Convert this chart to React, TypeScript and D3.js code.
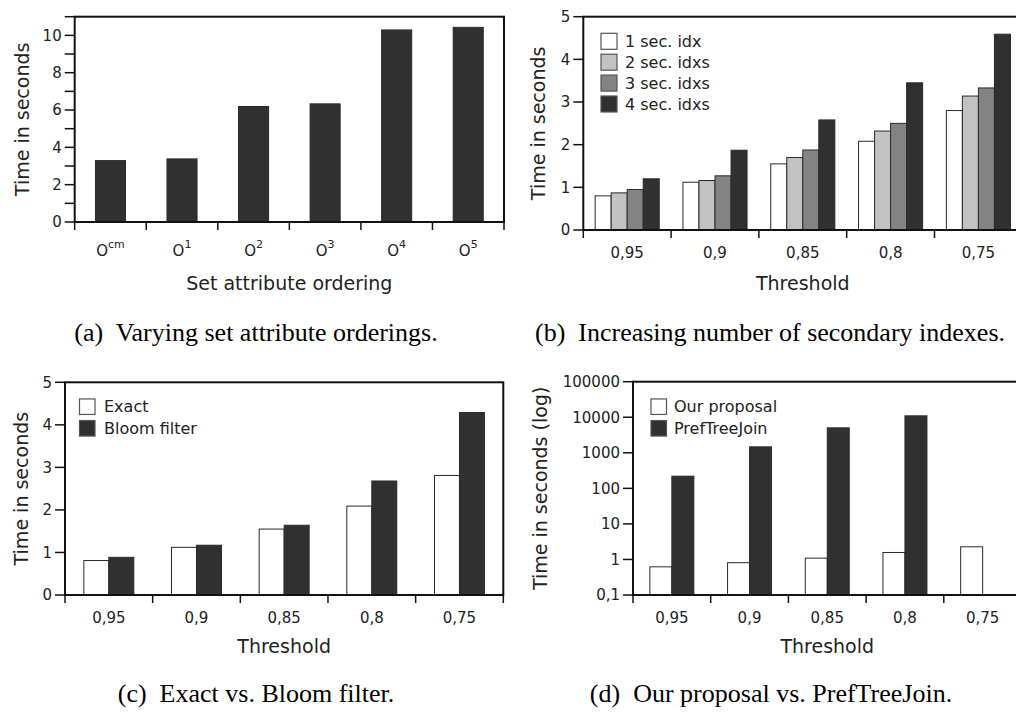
import React from "react";
import * as d3 from "d3";

// ---------- data ----------
const orderingLabels = ["cm", "1", "2", "3", "4", "5"];
const orderingTimes = [3.29, 3.38, 6.19, 6.33, 10.29, 10.43];

const thresholds = ["0,95", "0,9", "0,85", "0,8", "0,75"];
const secIdx1 = [0.8, 1.12, 1.55, 2.08, 2.8];
const secIdx2 = [0.87, 1.16, 1.7, 2.32, 3.14];
const secIdx3 = [0.95, 1.27, 1.875, 2.5, 3.33];
const secIdx4 = [1.2, 1.87, 2.58, 3.45, 4.59];

const exactTimes = [0.81, 1.12, 1.55, 2.09, 2.81];
const bloomTimes = [0.886, 1.17, 1.64, 2.68, 4.29];

const proposalTimes = [0.62, 0.81, 1.09, 1.57, 2.27];
const prefTreeJoinTimes: (number | null)[] = [220, 1470, 5030, 10960, null];

const ticksA = [0, 1, 2, 3, 4, 5, 6, 7, 8, 9, 10, 11];
const ticksLin5 = [0, 1, 2, 3, 4, 5];
const ticksLog = [0.1, 1, 10, 100, 1000, 10000, 100000];
const ticksLogLabels = ["0,1", "1", "10", "100", "1000", "10000", "100000"];

const WHITE = "#ffffff";
const LIGHT = "#c2c2c2";
const MID = "#838383";
const DARK = "#303030";

const FONT = "'DejaVu Sans', 'Noto Sans', sans-serif";
const SERIF = "'Liberation Serif', 'Times New Roman', serif";
const TXT = "#222";

type Series = { name: string; values: (number | null)[]; fill: string };

type PanelProps = {
  left: number;
  right: number;
  top: number;
  bottom: number;
  y: any;
  base: number;
  yTicks: number[];
  yTickLabel: (v: number, i: number) => string | null;
  cats: string[];
  series: Series[];
  groupFrac: number;
  xLabel: (c: string) => React.ReactNode;
  xLabelY: number;
  xTitle: string;
  xTitleY: number;
  yTitle: string;
  yTitleX: number;
  legend?: { x: number; y0: number; step: number; box: number; textX: number };
};

function Panel(p: PanelProps) {
  const x = d3.scaleBand<string>().domain(p.cats).range([p.left, p.right]).padding(0);
  const bw = x.bandwidth();
  const gw = bw * p.groupFrac;
  const inner = d3
    .scaleBand<string>()
    .domain(p.series.map((s) => s.name))
    .range([0, gw])
    .padding(0);
  const boundaries = p.cats.map((c) => x(c)!).concat([p.right]);
  const yBase = p.y(p.base);
  return (
    <g>
      {/* bars */}
      {p.cats.map((c, ci) => (
        <g key={c} transform={`translate(${x(c)! + (bw - gw) / 2},0)`}>
          {p.series.map((s) => {
            const v = s.values[ci];
            if (v == null) return null;
            const yt = p.y(v);
            return (
              <rect
                key={s.name}
                x={inner(s.name)!}
                y={yt}
                width={inner.bandwidth()}
                height={yBase - yt}
                fill={s.fill}
                stroke="#2a2a2a"
                strokeWidth={1}
              />
            );
          })}
        </g>
      ))}
      {/* frame */}
      <rect
        x={p.left}
        y={p.top}
        width={p.right - p.left}
        height={p.bottom - p.top}
        fill="none"
        stroke="#111"
        strokeWidth={2}
      />
      {/* y ticks */}
      {p.yTicks.map((v, i) => {
        const yy = p.y(v);
        const lab = p.yTickLabel(v, i);
        return (
          <g key={"yt" + i}>
            <line x1={p.left - 10} x2={p.left} y1={yy} y2={yy} stroke="#111" strokeWidth={1.5} />
            {lab != null && (
              <text
                x={p.left - 13}
                y={yy}
                dy="0.36em"
                textAnchor="end"
                fontFamily={FONT}
                fontSize={15}
                fill={TXT}
              >
                {lab}
              </text>
            )}
          </g>
        );
      })}
      {/* x ticks */}
      {boundaries.map((bx, i) => (
        <line key={"xt" + i} x1={bx} x2={bx} y1={p.bottom} y2={p.bottom + 8} stroke="#111" strokeWidth={1.5} />
      ))}
      {p.cats.map((c) => (
        <text
          key={"xl" + c}
          x={x(c)! + bw / 2}
          y={p.xLabelY}
          textAnchor="middle"
          fontFamily={FONT}
          fontSize={15}
          fill={TXT}
        >
          {p.xLabel(c)}
        </text>
      ))}
      {/* titles */}
      <text
        x={(p.left + p.right) / 2}
        y={p.xTitleY}
        textAnchor="middle"
        fontFamily={FONT}
        fontSize={19}
        fill={TXT}
      >
        {p.xTitle}
      </text>
      <text
        transform={`translate(${p.yTitleX},${(p.top + p.bottom) / 2}) rotate(-90)`}
        dy="0.36em"
        textAnchor="middle"
        fontFamily={FONT}
        fontSize={19}
        fill={TXT}
      >
        {p.yTitle}
      </text>
      {/* legend */}
      {p.legend &&
        p.series.map((s, i) => {
          const L = p.legend!;
          const cy = L.y0 + i * L.step;
          return (
            <g key={"lg" + s.name}>
              <rect
                x={L.x}
                y={cy - L.box / 2}
                width={L.box}
                height={L.box}
                fill={s.fill}
                stroke="#555"
                strokeWidth={1.2}
              />
              <text x={L.textX} y={cy} dy="0.36em" fontFamily={FONT} fontSize={16} fill={TXT}>
                {s.name}
              </text>
            </g>
          );
        })}
    </g>
  );
}

const thresholdLabel = (c: string) => c;

export default function App() {
  const yA = d3.scaleLinear().domain([0, 11]).range([222, 16.7]);
  const yB = d3.scaleLinear().domain([0, 5]).range([230, 16.7]);
  const yC = d3.scaleLinear().domain([0, 5]).range([595, 382.3]);
  const yD = d3.scaleLog().domain([0.1, 100000]).range([595, 381.7]);

  return (
    <svg
      width={1016}
      height={713}
      style={{ position: "absolute", left: 0, top: 0, background: "#fff" }}
    >
      <rect x={0} y={0} width={1016} height={713} fill="#fff" />
      {/* (a) */}
      <Panel
        left={74.7}
        right={504}
        top={16.7}
        bottom={222}
        y={yA}
        base={0}
        yTicks={ticksA}
        yTickLabel={(v) => (v % 2 === 0 && v <= 10 ? String(v) : null)}
        cats={orderingLabels}
        series={[{ name: "time", values: orderingTimes, fill: DARK }]}
        groupFrac={0.42}
        xLabel={(c) => (
          <>
            <tspan>O</tspan>
            <tspan dy={-8} fontSize={11}>
              {c}
            </tspan>
          </>
        )}
        xLabelY={256}
        xTitle="Set attribute ordering"
        xTitleY={290}
        yTitle="Time in seconds"
        yTitleX={22}
      />
      {/* (b) */}
      <Panel
        left={583.3}
        right={1022.3}
        top={16.7}
        bottom={230}
        y={yB}
        base={0}
        yTicks={ticksLin5}
        yTickLabel={(v) => String(v)}
        cats={thresholds}
        series={[
          { name: "1 sec. idx", values: secIdx1, fill: WHITE },
          { name: "2 sec. idxs", values: secIdx2, fill: LIGHT },
          { name: "3 sec. idxs", values: secIdx3, fill: MID },
          { name: "4 sec. idxs", values: secIdx4, fill: DARK },
        ]}
        groupFrac={0.73}
        xLabel={thresholdLabel}
        xLabelY={258}
        xTitle="Threshold"
        xTitleY={290}
        yTitle="Time in seconds"
        yTitleX={538.3}
        legend={{ x: 601, y0: 41.3, step: 20.9, box: 16, textX: 625 }}
      />
      {/* (c) */}
      <Panel
        left={65}
        right={503.3}
        top={382.3}
        bottom={595}
        y={yC}
        base={0}
        yTicks={ticksLin5}
        yTickLabel={(v) => String(v)}
        cats={thresholds}
        series={[
          { name: "Exact", values: exactTimes, fill: WHITE },
          { name: "Bloom filter", values: bloomTimes, fill: DARK },
        ]}
        groupFrac={0.57}
        xLabel={thresholdLabel}
        xLabelY={623}
        xTitle="Threshold"
        xTitleY={653}
        yTitle="Time in seconds"
        yTitleX={20.7}
        legend={{ x: 79.5, y0: 406.7, step: 21.6, box: 15.5, textX: 104 }}
      />
      {/* (d) */}
      <Panel
        left={633}
        right={1021.5}
        top={381.7}
        bottom={595}
        y={yD}
        base={0.1}
        yTicks={ticksLog}
        yTickLabel={(v, i) => ticksLogLabels[i]}
        cats={thresholds}
        series={[
          { name: "Our proposal", values: proposalTimes, fill: WHITE },
          { name: "PrefTreeJoin", values: prefTreeJoinTimes, fill: DARK },
        ]}
        groupFrac={0.566}
        xLabel={thresholdLabel}
        xLabelY={623}
        xTitle="Threshold"
        xTitleY={653}
        yTitle="Time in seconds (log)"
        yTitleX={540}
        legend={{ x: 651, y0: 406.7, step: 21.6, box: 15.5, textX: 674 }}
      />
      {/* captions */}
      <text x={256} y={341} textAnchor="middle" fontFamily={SERIF} fontSize={26} fill="#000" xmlSpace="preserve">
        (a)  Varying set attribute orderings.
      </text>
      <text x={770} y={341} textAnchor="middle" fontFamily={SERIF} fontSize={26} fill="#000" xmlSpace="preserve">
        (b)  Increasing number of secondary indexes.
      </text>
      <text x={256} y={702} textAnchor="middle" fontFamily={SERIF} fontSize={26} fill="#000" xmlSpace="preserve">
        (c)  Exact vs. Bloom filter.
      </text>
      <text x={771} y={702} textAnchor="middle" fontFamily={SERIF} fontSize={26} fill="#000" xmlSpace="preserve">
        (d)  Our proposal vs. PrefTreeJoin.
      </text>
    </svg>
  );
}
